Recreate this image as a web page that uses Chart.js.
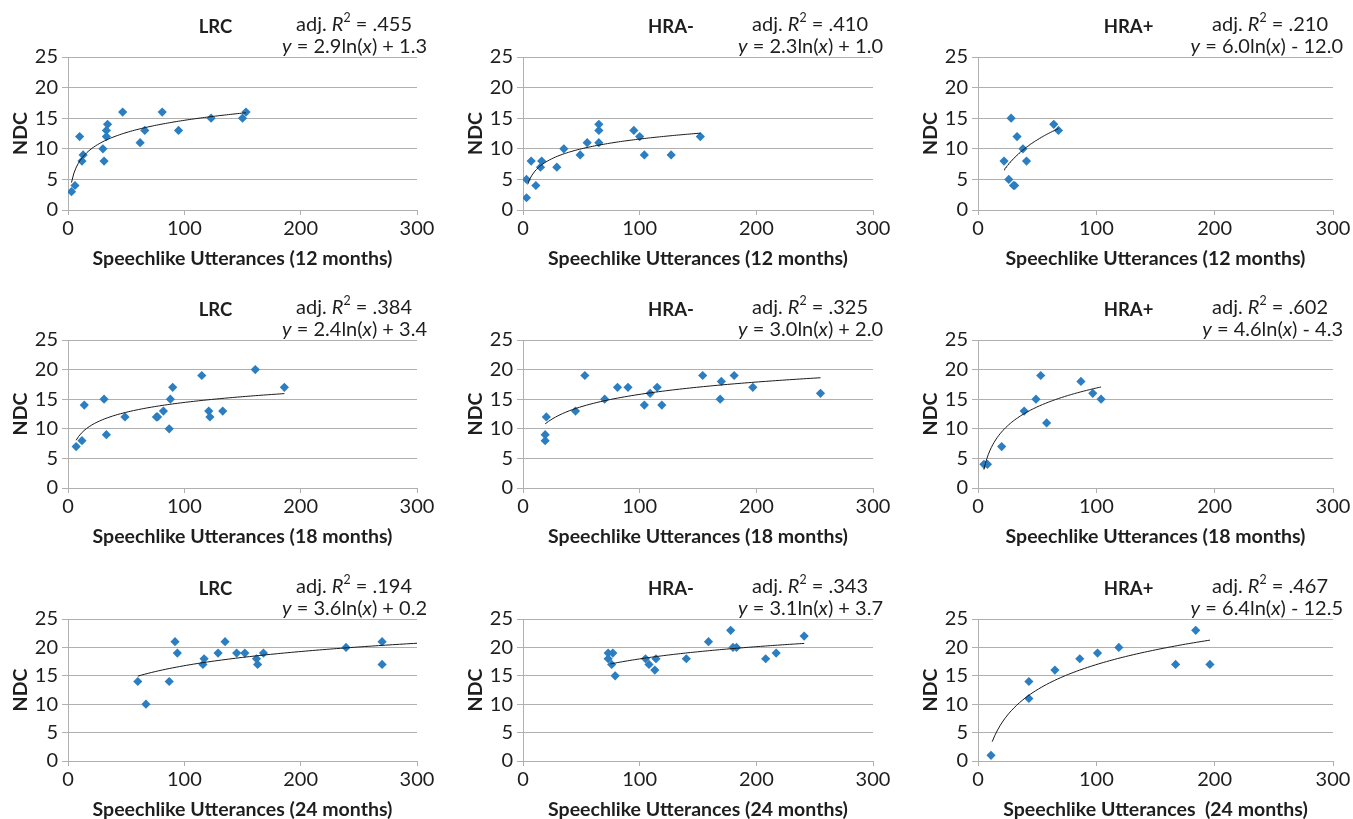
<!DOCTYPE html>
<html>
<head>
<meta charset="utf-8">
<title>NDC vs speechlike utterances</title>
<script src="https://cdn.jsdelivr.net/npm/chart.js@4.4.0/dist/chart.umd.min.js"></script>
<style>
  html, body { margin: 0; padding: 0; background: #fff; }
  #wrap { position: relative; width: 1353px; height: 819px; overflow: hidden; }
  .panel { position: absolute; }
</style>
</head>
<body>
<div id="wrap"></div>
<script>
// groups (columns) and ages (rows)
var groups = ["LRC", "HRA-", "HRA+"];
var ages = ["12", "18", "24"];
var xTitles = [
    "Speechlike Utterances (12 months)", "Speechlike Utterances (12 months)", "Speechlike Utterances (12 months)",
    "Speechlike Utterances (18 months)", "Speechlike Utterances (18 months)", "Speechlike Utterances (18 months)",
    "Speechlike Utterances (24 months)", "Speechlike Utterances (24 months)", "Speechlike Utterances  (24 months)"
];

// scatter data
var lrc12X = [3, 6, 10, 12, 13, 30, 31, 33, 33, 34, 47, 62, 66, 81, 95, 123, 150, 153];
var lrc12Y = [3, 4, 12, 8, 9, 10, 8, 12, 13, 14, 16, 11, 13, 16, 13, 15, 15, 16];
var hraNeg12X = [3, 3, 7, 11, 15, 16, 29, 35, 49, 55, 65, 65, 65, 95, 100, 104, 127, 152];
var hraNeg12Y = [2, 5, 8, 4, 7, 8, 7, 10, 9, 11, 14, 13, 11, 13, 12, 9, 9, 12];
var hraPos12X = [22, 28, 26, 30, 31, 33, 38, 41, 64, 68];
var hraPos12Y = [8, 15, 5, 4, 4, 12, 10, 8, 14, 13];

var lrc18X = [7, 12, 14, 31, 33, 49, 76, 77, 82, 87, 88, 90, 115, 121, 122, 133, 161, 186];
var lrc18Y = [7, 8, 14, 15, 9, 12, 12, 12, 13, 10, 15, 17, 19, 13, 12, 13, 20, 17];
var hraNeg18X = [19, 19, 20, 45, 53, 70, 81, 90, 104, 109, 115, 119, 154, 169, 170, 181, 197, 255];
var hraNeg18Y = [9, 8, 12, 13, 19, 15, 17, 17, 14, 16, 17, 14, 19, 15, 18, 19, 17, 16];
var hraPos18X = [5, 8, 20, 39, 49, 53, 58, 87, 97, 104];
var hraPos18Y = [4, 4, 7, 13, 15, 19, 11, 18, 16, 15];

var lrc24X = [60, 67, 87, 92, 94, 116, 117, 129, 135, 145, 152, 162, 163, 168, 239, 270, 270];
var lrc24Y = [14, 10, 14, 21, 19, 17, 18, 19, 21, 19, 19, 18, 17, 19, 20, 21, 17];
var hraNeg24X = [73, 73, 77, 76, 79, 105, 108, 113, 114, 140, 159, 178, 180, 183, 208, 217, 241];
var hraNeg24Y = [19, 18, 19, 17, 15, 18, 17, 16, 18, 18, 21, 23, 20, 20, 18, 19, 22];
var hraPos24X = [11, 43, 43, 65, 86, 101, 119, 167, 184, 196];
var hraPos24Y = [1, 14, 11, 16, 18, 19, 20, 17, 23, 17];

// log fits printed on each panel: y = a ln(x) + b
var fitSlope = [2.9, 2.3, 6.0, 2.4, 3.0, 4.6, 3.6, 3.1, 6.4];
var fitIntercept = [1.3, 1.0, -12.0, 3.4, 2.0, -4.3, 0.2, 3.7, -12.5];
var adjR2 = [".455", ".410", ".210", ".384", ".325", ".602", ".194", ".343", ".467"];
var fitFrom = [3, 4, 22, 7, 19, 5, 60, 75, 12];
var fitTo = [153, 152, 68, 186, 255, 104, 300, 241, 196];

var xTicks = [0, 100, 200, 300];
var yTicks = [0, 5, 10, 15, 20, 25];

var allX = [lrc12X, hraNeg12X, hraPos12X, lrc18X, hraNeg18X, hraPos18X, lrc24X, hraNeg24X, hraPos24X];
var allY = [lrc12Y, hraNeg12Y, hraPos12Y, lrc18Y, hraNeg18Y, hraPos18Y, lrc24Y, hraNeg24Y, hraPos24Y];

// layout (pixels)
var colLeft = [68, 523, 978];
var colW = [349, 350, 355];
var rowTop = [57, 340, 619];
var rowH = [153, 148, 142];
var AXIS_W = 67, TOP_PAD = 57, X_AXIS_H = 60, RIGHT_PAD = 20;

var FONT = "Lato, 'Open Sans', sans-serif";
var TXT = "#1e1e1e";
var GRID = "#b0b0b0";
var BLUE = "#2b7ec1";
var TICK_SIZE = 20, TITLE_SIZE = 19.5, EQ_SIZE = 20;

function pairs(xs, ys) {
    return xs.map(function (x, i) { return { x: x, y: ys[i] }; });
}

function fitLine(i) {
    var pts = [];
    var n = 80;
    for (var k = 0; k <= n; k++) {
        var x = fitFrom[i] + (fitTo[i] - fitFrom[i]) * k / n;
        pts.push({ x: x, y: fitSlope[i] * Math.log(x) + fitIntercept[i] });
    }
    return pts;
}

// draw a line of text made of styled pieces, right-aligned at xr
function drawRich(ctx, segs, xr, y, size) {
    var w = 0;
    segs.forEach(function (s) {
        var sz = s.sup ? size * 0.62 : size;
        ctx.font = (s.it ? "italic " : "") + sz + "px " + FONT;
        s.w = ctx.measureText(s.t).width;
        w += s.w;
    });
    var x = xr - w;
    ctx.textAlign = "left";
    ctx.textBaseline = "middle";
    segs.forEach(function (s) {
        var sz = s.sup ? size * 0.62 : size;
        ctx.font = (s.it ? "italic " : "") + sz + "px " + FONT;
        ctx.fillText(s.t, x, s.sup ? y - size * 0.33 : y);
        x += s.w;
    });
}

var labelPlugin = {
    id: "panelLabels",
    afterDraw: function (chart) {
        var i = chart.options.plugins.panelLabels.index;
        var a = chart.chartArea;
        var ctx = chart.ctx;
        ctx.save();
        ctx.fillStyle = TXT;
        ctx.font = "bold 18.5px " + FONT;
        ctx.textAlign = "center";
        ctx.textBaseline = "middle";
        ctx.fillText(groups[i % 3], (a.left + a.right) / 2 - 27, a.top - 30);

        var b = fitIntercept[i];
        var sign = b < 0 ? " - " : " + ";
        drawRich(ctx, [{ t: "adj. " }, { t: "R", it: true }, { t: "2", sup: true }, { t: " = " + adjR2[i] }],
            a.right - 5, a.top - 32, EQ_SIZE);
        drawRich(ctx, [{ t: "y", it: true }, { t: " = " + fitSlope[i].toFixed(1) + "ln(" }, { t: "x", it: true },
            { t: ")" + sign + Math.abs(b).toFixed(1) }], a.right + 10, a.top - 10, EQ_SIZE);
        ctx.restore();
    }
};

var wrap = document.getElementById("wrap");

for (var i = 0; i < 9; i++) {
    var r = Math.floor(i / 3), c = i % 3;
    var w = AXIS_W + colW[c] + RIGHT_PAD;
    var h = TOP_PAD + rowH[r] + X_AXIS_H;
    var div = document.createElement("div");
    div.className = "panel";
    div.style.left = (colLeft[c] - AXIS_W) + "px";
    div.style.top = (rowTop[r] - TOP_PAD) + "px";
    div.style.width = w + "px";
    div.style.height = h + "px";
    var cv = document.createElement("canvas");
    cv.width = w;
    cv.height = h;
    div.appendChild(cv);
    wrap.appendChild(div);

    new Chart(cv.getContext("2d"), {
        type: "scatter",
        data: {
            datasets: [{
                type: "line",
                data: fitLine(i),
                borderColor: "#1a1a1a",
                borderWidth: 1,
                pointRadius: 0,
                tension: 0,
                fill: false
            }, {
                data: pairs(allX[i], allY[i]),
                pointStyle: "rectRot",
                pointRadius: 4.6,
                backgroundColor: BLUE,
                borderWidth: 0
            }]
        },
        options: {
            responsive: false,
            animation: false,
            events: [],
            layout: { padding: { left: 0, top: TOP_PAD, right: RIGHT_PAD, bottom: 0 } },
            scales: {
                x: {
                    type: "linear",
                    min: xTicks[0],
                    max: xTicks[xTicks.length - 1],
                    afterBuildTicks: function (s) { s.ticks = xTicks.map(function (v) { return { value: v }; }); },
                    ticks: { font: { family: FONT, size: TICK_SIZE }, color: TXT, padding: 2, maxRotation: 0 },
                    grid: { drawOnChartArea: false, drawTicks: true, tickLength: 5, color: GRID },
                    border: { color: GRID },
                    title: { display: true, text: xTitles[i], color: TXT, font: { family: FONT, size: TITLE_SIZE, weight: "bold" }, padding: 0 },
                    afterFit: function (s) { s.height = X_AXIS_H; }
                },
                y: {
                    min: yTicks[0],
                    max: yTicks[yTicks.length - 1],
                    afterBuildTicks: function (s) { s.ticks = yTicks.map(function (v) { return { value: v }; }); },
                    ticks: { font: { family: FONT, size: TICK_SIZE }, color: TXT, padding: 4 },
                    grid: { color: GRID, tickLength: 6 },
                    border: { color: GRID },
                    title: { display: true, text: "NDC", color: TXT, font: { family: FONT, size: TITLE_SIZE, weight: "bold" }, padding: { top: 8, bottom: 0 } },
                    afterFit: function (s) { s.width = AXIS_W; }
                }
            },
            plugins: {
                legend: { display: false },
                tooltip: { enabled: false },
                panelLabels: { index: i }
            }
        },
        plugins: [labelPlugin]
    });
}
</script>
</body>
</html>
